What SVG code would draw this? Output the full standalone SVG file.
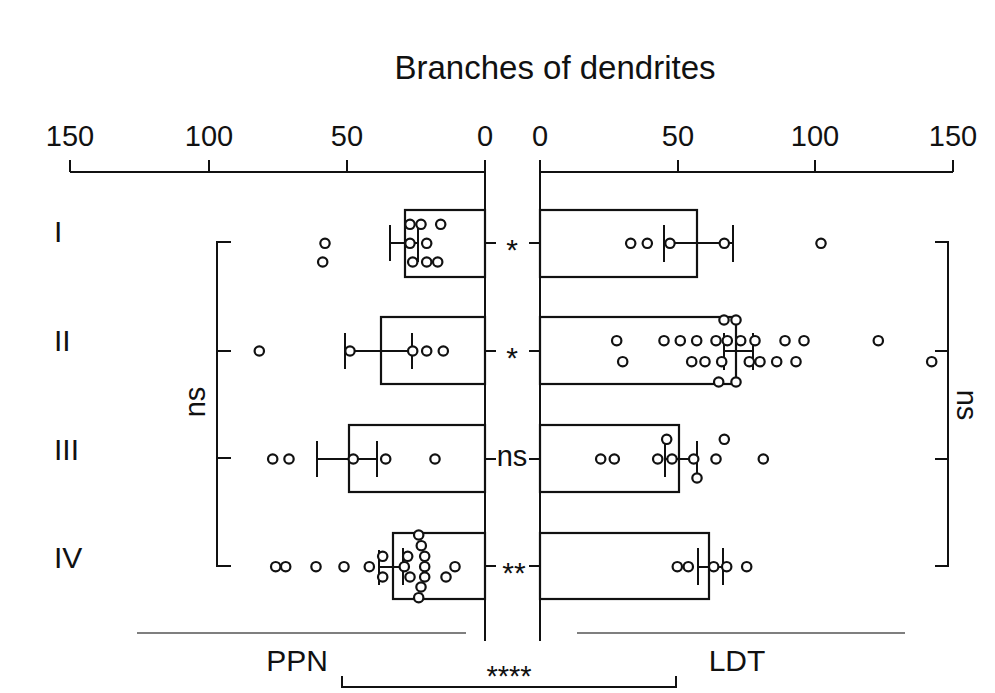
<svg xmlns="http://www.w3.org/2000/svg" width="995" height="693" viewBox="0 0 995 693">
<style>
text{font-family:"Liberation Sans",Arial,sans-serif;fill:#111}
.ln{stroke:#111;stroke-width:2;fill:none}
.bar{stroke:#111;stroke-width:2.2;fill:#fff}
.eb{stroke:#111;stroke-width:2;fill:none}
.d circle{stroke:#111;stroke-width:2.2;fill:#fff;r:4.7px}
.tk{font-size:29px;text-anchor:middle}
.lb{font-size:30px}
.thin{stroke:#555;stroke-width:1.3}
</style>
<rect width="995" height="693" fill="#fff"/>
<text x="555" y="79" font-size="33" text-anchor="middle">Branches of dendrites</text>

<g id="axis-left">
<path class="ln" d="M70 172H485M70 160V172M209 160V172M347 160V172M485 160V641"/>
<text class="tk" x="70" y="146">150</text>
<text class="tk" x="209" y="146">100</text>
<text class="tk" x="347" y="146">50</text>
<text class="tk" x="485" y="146">0</text>
</g>
<g id="axis-right">
<path class="ln" d="M540 172H953M540 160V641M678 160V172M815 160V172M953 160V172"/>
<text class="tk" x="540" y="146">0</text>
<text class="tk" x="678" y="146">50</text>
<text class="tk" x="815" y="146">100</text>
<text class="tk" x="953" y="146">150</text>
</g>

<g id="row-labels">
<text class="lb" x="54" y="242">I</text>
<text class="lb" x="54" y="351">II</text>
<text class="lb" x="54" y="460">III</text>
<text class="lb" x="54" y="568">IV</text>
</g>

<g id="row-I">
<rect class="bar" x="405" y="210" width="80" height="67"/>
<path class="eb" d="M390 243H418M390 225V261M418 223V262"/>
<rect class="bar" x="540" y="210" width="157" height="67"/>
<path class="eb" d="M664 243H733M664 225V262M733 225V262"/>
<g class="d">
<circle cx="410" cy="224.3" r="4.7"/><circle cx="421" cy="224.3" r="4.7"/><circle cx="440.7" cy="224.3" r="4.7"/>
<circle cx="410" cy="243.3" r="4.7"/><circle cx="426.7" cy="243.3" r="4.7"/><circle cx="325" cy="243.3" r="4.7"/>
<circle cx="322.7" cy="262" r="4.7"/><circle cx="412.7" cy="262" r="4.7"/><circle cx="426.7" cy="262" r="4.7"/><circle cx="437.7" cy="262" r="4.7"/>
<circle cx="630.7" cy="243.3" r="4.7"/><circle cx="647.3" cy="243.3" r="4.7"/><circle cx="670" cy="243.3" r="4.7"/><circle cx="724.3" cy="243.3" r="4.7"/><circle cx="821" cy="243.3" r="4.7"/>
</g>
</g>

<g id="row-II">
<rect class="bar" x="381" y="317" width="104" height="67"/>
<path class="eb" d="M345 351H412M345 333V369M412 333V369"/>
<rect class="bar" x="540" y="317" width="196" height="67"/>
<path class="eb" d="M724 351H753M724 333V370M753 333V370"/>
<g class="d">
<circle cx="259.3" cy="351" r="4.7"/><circle cx="350" cy="351" r="4.7"/><circle cx="412.7" cy="351" r="4.7"/><circle cx="426.7" cy="351" r="4.7"/><circle cx="443.3" cy="351" r="4.7"/>
<circle cx="724" cy="320" r="4.7"/><circle cx="736" cy="320" r="4.7"/>
<circle cx="616.7" cy="340.7" r="4.7"/><circle cx="664" cy="340.7" r="4.7"/><circle cx="680.3" cy="340.7" r="4.7"/><circle cx="696.7" cy="340.7" r="4.7"/><circle cx="716" cy="340.7" r="4.7"/><circle cx="727.3" cy="340.7" r="4.7"/><circle cx="740.7" cy="340.7" r="4.7"/><circle cx="755" cy="340.7" r="4.7"/><circle cx="785" cy="340.7" r="4.7"/><circle cx="804" cy="340.7" r="4.7"/><circle cx="878.3" cy="340.7" r="4.7"/>
<circle cx="622.7" cy="361.7" r="4.7"/><circle cx="691.7" cy="361.7" r="4.7"/><circle cx="705" cy="361.7" r="4.7"/><circle cx="721.7" cy="361.7" r="4.7"/><circle cx="749.3" cy="361.7" r="4.7"/><circle cx="760" cy="361.7" r="4.7"/><circle cx="776.7" cy="361.7" r="4.7"/><circle cx="796" cy="361.7" r="4.7"/><circle cx="931.7" cy="361.7" r="4.7"/>
<circle cx="718.7" cy="382" r="4.7"/><circle cx="736" cy="382" r="4.7"/>
</g>
<path class="eb" d="M736 325V377"/>
</g>

<g id="row-III">
<rect class="bar" x="349" y="425" width="136" height="67"/>
<path class="eb" d="M317 459H377M317 441V477M377 441V477"/>
<rect class="bar" x="540" y="425" width="139" height="67"/>
<path class="eb" d="M665 459H697M665 443V477M697 441V478"/>
<g class="d">
<circle cx="272.7" cy="459" r="4.7"/><circle cx="289" cy="459" r="4.7"/><circle cx="353.3" cy="459" r="4.7"/><circle cx="385.7" cy="459" r="4.7"/><circle cx="435" cy="459" r="4.7"/>
<circle cx="600.7" cy="459" r="4.7"/><circle cx="614.3" cy="459" r="4.7"/><circle cx="657.7" cy="459" r="4.7"/><circle cx="672" cy="459" r="4.7"/><circle cx="666.7" cy="439.3" r="4.7"/><circle cx="693.7" cy="459" r="4.7"/><circle cx="697" cy="478" r="4.7"/><circle cx="716" cy="459" r="4.7"/><circle cx="724.3" cy="439.3" r="4.7"/><circle cx="763.3" cy="459" r="4.7"/>
</g>
</g>

<g id="row-IV">
<rect class="bar" x="393" y="533" width="92" height="66"/>
<path class="eb" d="M379 567H403M379 550V585M403 548V585"/>
<rect class="bar" x="540" y="533" width="169" height="66"/>
<path class="eb" d="M698 567H723M698 548V585M723 548V585"/>
<g class="d">
<circle cx="275.7" cy="566.7" r="4.7"/><circle cx="285.7" cy="566.7" r="4.7"/><circle cx="316" cy="566.7" r="4.7"/><circle cx="344" cy="566.7" r="4.7"/><circle cx="369.3" cy="566.7" r="4.7"/>
<circle cx="382.7" cy="556.3" r="4.7"/><circle cx="382.7" cy="577" r="4.7"/>
<circle cx="407.7" cy="556.3" r="4.7"/><circle cx="404.3" cy="566.7" r="4.7"/><circle cx="410" cy="577" r="4.7"/>
<circle cx="418.7" cy="535" r="4.7"/><circle cx="421.3" cy="545.7" r="4.7"/><circle cx="424.7" cy="556.3" r="4.7"/><circle cx="424.7" cy="566.7" r="4.7"/><circle cx="424.7" cy="577" r="4.7"/><circle cx="421" cy="587" r="4.7"/><circle cx="418.7" cy="597.7" r="4.7"/>
<circle cx="455" cy="566.7" r="4.7"/><circle cx="446" cy="577" r="4.7"/>
<circle cx="677.3" cy="566.7" r="4.7"/><circle cx="688.3" cy="566.7" r="4.7"/><circle cx="713.7" cy="566.7" r="4.7"/><circle cx="726.7" cy="566.7" r="4.7"/><circle cx="746.7" cy="566.7" r="4.7"/>
</g>
</g>

<g id="connectors">
<path class="ln" d="M485 243H496M529 243H540M485 351H496M529 351H540M485 459H496M529 459H540M485 566H496M529 566H540"/>
<path class="ln" d="M231 242H217V566H231M217 351H231M217 458H231"/>
<path class="ln" d="M935 242H948V566H935M935 351H948M935 459H948"/>
<path class="ln" d="M342 676V687H676V676"/>
<path class="ln thin" d="M137 633H466M577 633H905"/>
</g>

<g id="sig-labels">
<text x="512" y="260" font-size="30" text-anchor="middle">*</text>
<text x="512" y="368" font-size="30" text-anchor="middle">*</text>
<text x="512" y="466" font-size="29" text-anchor="middle">ns</text>
<text x="514" y="583" font-size="30" text-anchor="middle">**</text>
<text x="509" y="686" font-size="29" text-anchor="middle">****</text>
<text font-size="29" text-anchor="middle" transform="translate(205 402) rotate(-90)">ns</text>
<text font-size="29" text-anchor="middle" transform="translate(957 405) rotate(90)">ns</text>
</g>

<g id="group-labels">
<text class="lb" x="297" y="671" text-anchor="middle">PPN</text>
<text class="lb" x="737" y="671" text-anchor="middle">LDT</text>
</g>
</svg>
